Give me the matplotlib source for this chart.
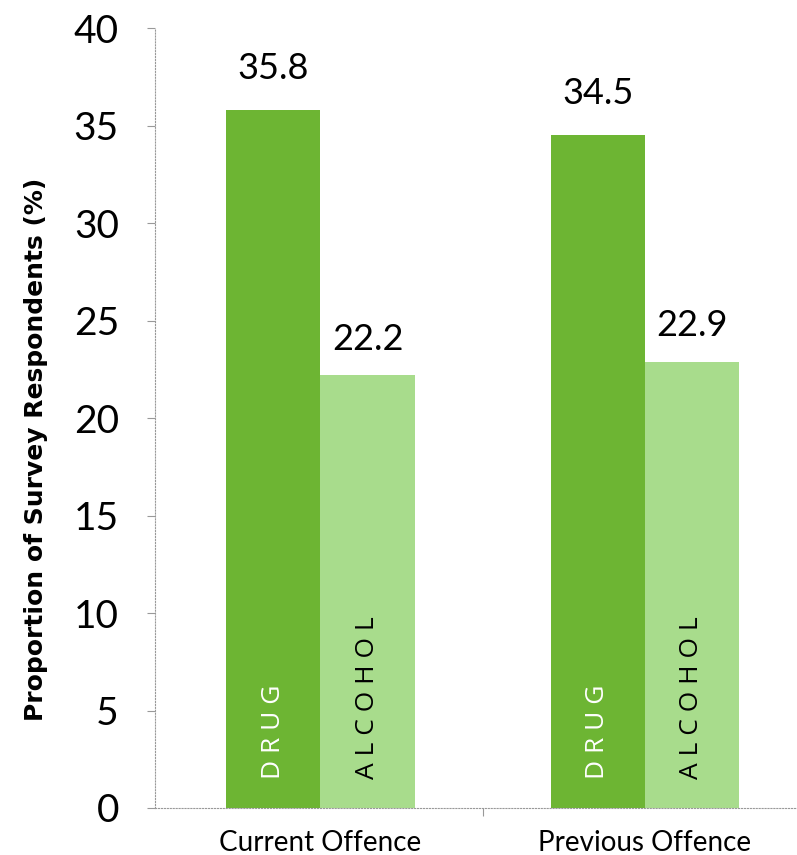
import matplotlib.pyplot as plt
import numpy as np

categories = ["Current Offence", "Previous Offence"]
drug = [35.8, 34.5]
alcohol = [22.2, 22.9]
yticks = [0, 5, 10, 15, 20, 25, 30, 35, 40]

fig = plt.figure(figsize=(7.97, 8.55), dpi=100)
ax = fig.add_axes([0.1945, 0.055, 0.81, 0.912])

x = np.arange(len(categories))
w = 0.29
b1 = ax.bar(x - w / 2, drug, w, color="#6db533")
b2 = ax.bar(x + w / 2, alcohol, w, color="#a8dc8c")

for rect, v in zip(b1, drug):
    ax.text(rect.get_x() + rect.get_width() / 2, v + 1.3, f"{v}",
            ha="center", va="bottom", fontsize=26, family="Lato")
    ax.text(rect.get_x() + rect.get_width() / 2, 1.5, "D R U G",
            rotation=90, ha="center", va="bottom", fontsize=19, color="white", family="Open Sans")
for rect, v in zip(b2, alcohol):
    ax.text(rect.get_x() + rect.get_width() / 2, v + 1.0, f"{v}",
            ha="center", va="bottom", fontsize=26, family="Lato")
    ax.text(rect.get_x() + rect.get_width() / 2, 1.5, "A L C O H O L",
            rotation=90, ha="center", va="bottom", fontsize=19, color="black", family="Open Sans")

ax.set_xlim(-0.51, 1.48)
ax.set_ylim(0, 40)
ax.set_yticks(yticks)
ax.set_yticklabels([str(t) for t in yticks], fontsize=28, family="Lato")
ax.set_xticks(x)
ax.set_xticklabels(categories, fontsize=20, family="Lato")
ax.set_xticks([0.5], minor=True)
ax.tick_params(axis="x", which="major", length=0, pad=16)
ax.tick_params(axis="x", which="minor", length=6, width=0.8, color="#999999")
ax.tick_params(axis="y", length=6, width=0.8, color="#999999", pad=20)

for s in ["top", "right"]:
    ax.spines[s].set_visible(False)
for s in ["left", "bottom"]:
    ax.spines[s].set_linestyle(":")
    ax.spines[s].set_color("#999999")

ax.set_ylabel("Proportion of Survey Respondents (%)", fontsize=18, fontweight="bold",
              family="DejaVu Sans")
ax.yaxis.set_label_coords(-0.165, 0.46)

fig.savefig("out.png")
